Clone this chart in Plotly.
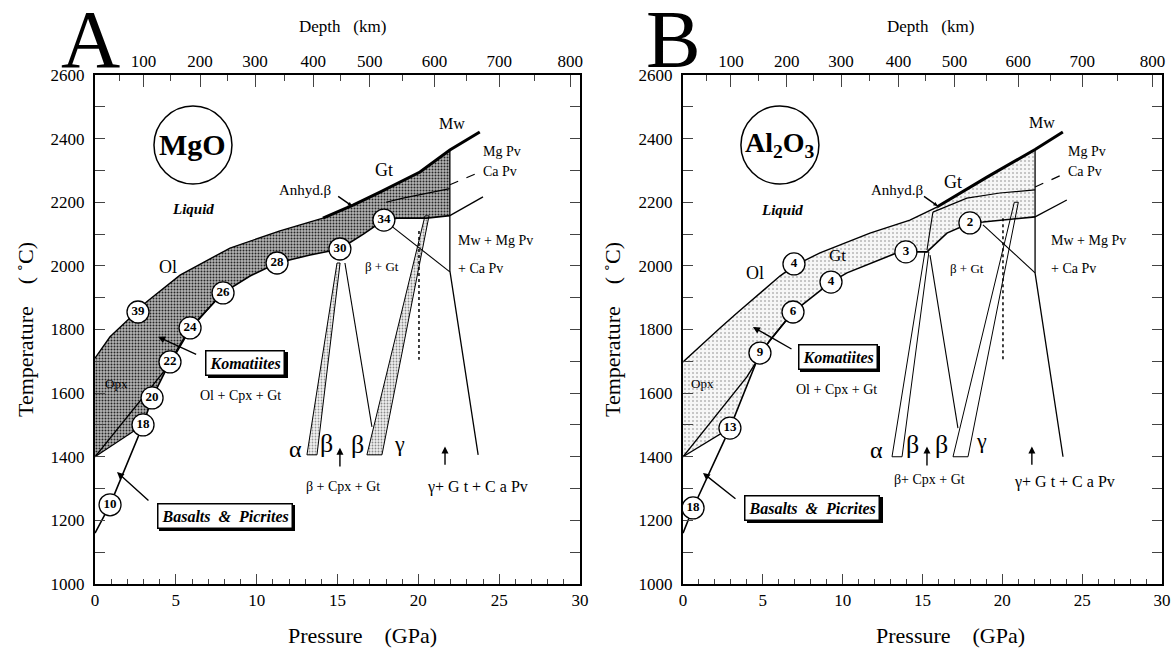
import plotly.graph_objects as go

# ---------------- Data (pressure GPa, temperature C) ----------------
# Panel A (MgO)
OL_LIQ_A_P = [0, 0.93, 2.16, 3.2, 5.26, 8.35, 11.44, 14.1]
OL_LIQ_A_T = [1710, 1777, 1836, 1887, 1971, 2056, 2110, 2150]
GT_LIQ_A_P = [14.1, 15.96, 17.63, 20.1, 21.95, 23.8]
GT_LIQ_A_T = [2150, 2191, 2232, 2295, 2364, 2421]
SOL_A_P = [0, 0.93, 2.97, 3.53, 4.64, 5.88, 7.92, 9.59, 11.26, 13.3, 15.15, 16.6, 17.87, 18.7, 20.5, 21.95]
SOL_A_T = [1160, 1249, 1500, 1585, 1698, 1805, 1915, 1968, 2009, 2034, 2053, 2100, 2144, 2150, 2150, 2158]
LOW_A_P = [0, 2.97]
LOW_A_T = [1400, 1500]
OPX_A_P = [0, 4.64, 5.88, 7.7]
OPX_A_T = [1400, 1692, 1800, 1905]
VERT_A_P = [21.95, 21.95, 23.7]
VERT_A_T = [2364, 1985, 1406]
MGPV_UP_A_P = [18.0, 19.05, 21.95]
MGPV_UP_A_T = [2200, 2213, 2243]
CAPV_A_P = [21.95, 23.8]
CAPV_A_T = [2255, 2295]
MW_LOW_A_P = [21.95, 24.0]
MW_LOW_A_T = [2158, 2217]
L34_A_P = [17.87, 21.95]
L34_A_T = [2144, 1981]
ALPHA_A_P = [14.97, 13.11, 13.73, 15.16, 14.97]
ALPHA_A_T = [2009, 1406, 1406, 2009, 2009]
L30_A_P = [15.46, 17.13]
L30_A_T = [2009, 1494]
GAMMA_A_P = [20.41, 16.82, 17.75, 20.66, 20.41]
GAMMA_A_T = [2157, 1406, 1406, 2157, 2157]
DOT_A_P = [20.04, 20.04]
DOT_A_T = [2110, 1705]
CIRC_A_LBL = ["10", "18", "20", "22", "24", "26", "28", "30", "34", "39"]
CIRC_A_P = [0.93, 2.97, 3.53, 4.64, 5.88, 7.92, 11.26, 15.15, 17.87, 2.66]
CIRC_A_T = [1249, 1500, 1585, 1698, 1805, 1915, 2009, 2053, 2144, 1855]

# Panel B (Al2O3)
OL_LIQ_B_P = [0, 1.06, 2.32, 3.38, 4.82, 6.07, 6.95, 8.58, 11.71, 14.21, 15.9]
OL_LIQ_B_T = [1698, 1748, 1805, 1852, 1915, 1968, 2000, 2041, 2103, 2144, 2185]
GT_LIQ_B_P = [15.9, 19.04, 22.05, 23.79]
GT_LIQ_B_T = [2185, 2279, 2366, 2421]
SOL_B_P = [0, 0.63, 2.94, 4.82, 6.89, 9.27, 10.27, 13.4, 13.96, 15.28, 16.53, 17.97, 18.79, 22.05]
SOL_B_T = [1160, 1239, 1490, 1726, 1855, 1949, 1978, 2041, 2044, 2044, 2103, 2135, 2138, 2154]
LOW_B_P = [0, 2.94]
LOW_B_T = [1400, 1490]
OPX_B_P = [0, 4.0, 5.45, 6.89]
OPX_B_T = [1400, 1651, 1767, 1855]
VERT_B_P = [22.05, 22.05, 23.8]
VERT_B_T = [2366, 1978, 1400]
MGPV_UP_B_P = [15.65, 17.78, 19.85, 22.05]
MGPV_UP_B_T = [2169, 2213, 2229, 2239]
CAPV_B_P = [22.05, 24.0]
CAPV_B_T = [2248, 2292]
MW_LOW_B_P = [22.05, 24.04]
MW_LOW_B_T = [2154, 2207]
L2_B_P = [18.79, 22.05]
L2_B_T = [2129, 1978]
BETA_IN_B_P = [15.28, 15.65]
BETA_IN_B_T = [2050, 2169]
ALPHA_B_P = [15.15, 13.09, 13.72, 15.4, 15.15]
ALPHA_B_T = [2044, 1400, 1400, 2044, 2044]
L3_B_P = [15.47, 17.22]
L3_B_T = [2034, 1490]
GAMMA_B_P = [20.75, 16.91, 17.85, 21.0, 20.75]
GAMMA_B_T = [2200, 1400, 1400, 2200, 2200]
DOT_B_P = [20.04, 20.04]
DOT_B_T = [2150, 1700]
CIRC_B_LBL = ["18", "13", "9", "6", "4", "4", "3", "2"]
CIRC_B_P = [0.63, 2.94, 4.82, 6.89, 6.95, 9.27, 13.96, 17.97]
CIRC_B_T = [1239, 1490, 1726, 1855, 2006, 1949, 2044, 2135]

# Axis tick labels
P_TICKS = [0, 5, 10, 15, 20, 25, 30]
T_TICKS = [1000, 1200, 1400, 1600, 1800, 2000, 2200, 2400, 2600]
DEPTH_LABELS = ["100", "200", "300", "400", "500", "600", "700", "800"]
DEPTH_AT_P = [3.0, 6.5, 9.9, 13.5, 17.0, 21.0, 25.0, 29.4]
DEPTH_MINOR_AT_P = [1.5, 4.7, 8.2, 11.7, 15.2, 19.0, 23.0, 27.2]

W, H = 1176, 652
FONT = "Liberation Serif"


def px(x):
    return x / W


def py(y):
    return 1 - y / H


fig = go.Figure()


def line(P, T, xa, ya, width=1.2, dash="solid"):
    fig.add_trace(go.Scatter(x=P, y=T, xaxis=xa, yaxis=ya, mode="lines",
                             line=dict(color="black", width=width, dash=dash),
                             hoverinfo="skip", showlegend=False))


def fill(P, T, xa, ya, bg, fg, size, sol, lw=0):
    fig.add_trace(go.Scatter(x=P, y=T, xaxis=xa, yaxis=ya, mode="lines", fill="toself",
                             fillcolor=bg,
                             fillpattern=dict(shape=".", bgcolor=bg, fgcolor=fg, size=size, solidity=sol),
                             line=dict(color="black", width=lw),
                             hoverinfo="skip", showlegend=False))


# ---- shaded melting bands ----
bandA_P = OL_LIQ_A_P + GT_LIQ_A_P[1:5] + SOL_A_P[:1:-1] + LOW_A_P[::-1]
bandA_T = OL_LIQ_A_T + GT_LIQ_A_T[1:5] + SOL_A_T[:1:-1] + LOW_A_T[::-1]
fill(bandA_P, bandA_T, "x", "y", "#b4b4b4", "#262626", 3, 0.33)
bandB_P = OL_LIQ_B_P + GT_LIQ_B_P[1:3] + SOL_B_P[:1:-1] + LOW_B_P[::-1]
bandB_T = OL_LIQ_B_T + GT_LIQ_B_T[1:3] + SOL_B_T[:1:-1] + LOW_B_T[::-1]
fill(bandB_P, bandB_T, "x2", "y2", "#f6f6f6", "#8a8a8a", 4, 0.13)

# wedges
fill(ALPHA_A_P, ALPHA_A_T, "x", "y", "#f2f2f2", "#9a9a9a", 3, 0.3, 1)
fill(GAMMA_A_P, GAMMA_A_T, "x", "y", "#eeeeee", "#8a8a8a", 3, 0.3, 1)
line(ALPHA_B_P, ALPHA_B_T, "x2", "y2", 1)
line(GAMMA_B_P, GAMMA_B_T, "x2", "y2", 1)

# ---- lines, panel A ----
line(OL_LIQ_A_P, OL_LIQ_A_T, "x", "y", 1.4)
line(GT_LIQ_A_P, GT_LIQ_A_T, "x", "y", 3)
line(SOL_A_P, SOL_A_T, "x", "y", 1.6)
line(LOW_A_P, LOW_A_T, "x", "y", 1.2)
line(OPX_A_P, OPX_A_T, "x", "y", 1.4)
line(VERT_A_P, VERT_A_T, "x", "y", 1.3)
line(MGPV_UP_A_P, MGPV_UP_A_T, "x", "y", 1.2)
line(CAPV_A_P, CAPV_A_T, "x", "y", 1.2, "dash")
line(MW_LOW_A_P, MW_LOW_A_T, "x", "y", 1.3)
line(L34_A_P, L34_A_T, "x", "y", 1.1)
line(L30_A_P, L30_A_T, "x", "y", 1.1)
line(DOT_A_P, DOT_A_T, "x", "y", 1.5, "dot")

# ---- lines, panel B ----
line(OL_LIQ_B_P, OL_LIQ_B_T, "x2", "y2", 1.4)
line(GT_LIQ_B_P, GT_LIQ_B_T, "x2", "y2", 3)
line(SOL_B_P, SOL_B_T, "x2", "y2", 1.6)
line(LOW_B_P, LOW_B_T, "x2", "y2", 1.2)
line(OPX_B_P, OPX_B_T, "x2", "y2", 1.4)
line(VERT_B_P, VERT_B_T, "x2", "y2", 1.3)
line(MGPV_UP_B_P, MGPV_UP_B_T, "x2", "y2", 1.2)
line(CAPV_B_P, CAPV_B_T, "x2", "y2", 1.2, "dash")
line(MW_LOW_B_P, MW_LOW_B_T, "x2", "y2", 1.3)
line(L2_B_P, L2_B_T, "x2", "y2", 1.1)
line(BETA_IN_B_P, BETA_IN_B_T, "x2", "y2", 1.1)
line(L3_B_P, L3_B_T, "x2", "y2", 1.1)
line(DOT_B_P, DOT_B_T, "x2", "y2", 1.5, "dot")

# ---- numbered circles ----
for lbl, P, T, xa, ya in [(CIRC_A_LBL, CIRC_A_P, CIRC_A_T, "x", "y"),
                           (CIRC_B_LBL, CIRC_B_P, CIRC_B_T, "x2", "y2")]:
    fig.add_trace(go.Scatter(x=P, y=T, xaxis=xa, yaxis=ya, mode="markers+text", text=lbl,
                             textposition="middle center",
                             textfont=dict(family=FONT, size=13, color="black", weight="bold"),
                             marker=dict(size=22, color="white", line=dict(color="black", width=1.3)),
                             hoverinfo="skip", showlegend=False))

# big composition circles
fig.add_trace(go.Scatter(x=[6.06], y=[2380], xaxis="x", yaxis="y", mode="markers",
                         marker=dict(size=78, color="white", line=dict(color="black", width=1.5)),
                         hoverinfo="skip", showlegend=False))
fig.add_trace(go.Scatter(x=[6.07], y=[2380], xaxis="x2", yaxis="y2", mode="markers",
                         marker=dict(size=78, color="white", line=dict(color="black", width=1.5)),
                         hoverinfo="skip", showlegend=False))
# dummy traces for depth axes
fig.add_trace(go.Scatter(x=[None], y=[None], xaxis="x3", yaxis="y", showlegend=False))
fig.add_trace(go.Scatter(x=[None], y=[None], xaxis="x4", yaxis="y2", showlegend=False))

# ---------------- axes ----------------
xdomA = [px(95), px(580)]
xdomB = [px(683), px(1162)]
ydom = [py(584), py(75)]
tickfont = dict(family=FONT, size=17, color="black")
common_x = dict(range=[0, 30], tickvals=P_TICKS, ticks="inside", ticklen=10, tickwidth=1.2,
                minor=dict(dtick=1, ticks="inside", ticklen=5, tickwidth=1),
                showline=True, linewidth=2, linecolor="black", mirror=True, showgrid=False,
                zeroline=False, tickfont=tickfont, automargin=False)
common_y = dict(range=[1000, 2600], tickvals=T_TICKS, ticks="inside", ticklen=10, tickwidth=1.2,
                minor=dict(dtick=100, ticks="inside", ticklen=5, tickwidth=1),
                showline=True, linewidth=2, linecolor="black", mirror="allticks", showgrid=False,
                zeroline=False, tickfont=tickfont, domain=ydom, automargin=False,
                ticklabelstandoff=5)
common_top = dict(range=[0, 30], side="top", tickvals=DEPTH_AT_P, ticktext=DEPTH_LABELS,
                  ticks="inside", ticklen=12, tickwidth=1.2,
                  minor=dict(tickvals=DEPTH_MINOR_AT_P, ticks="inside", ticklen=6, tickwidth=1),
                  showline=False, showgrid=False, zeroline=False, tickfont=tickfont, automargin=False,
                  ticklabelstandoff=4)

fig.update_layout(
    width=W, height=H, margin=dict(l=0, r=0, t=0, b=0),
    paper_bgcolor="white", plot_bgcolor="white", template="none",
    font=dict(family=FONT, color="black"),
    xaxis=dict(domain=xdomA, anchor="y", **common_x),
    yaxis=dict(anchor="x", **common_y),
    xaxis2=dict(domain=xdomB, anchor="y2", **common_x),
    yaxis2=dict(anchor="x2", **common_y),
    xaxis3=dict(overlaying="x", anchor="y", **common_top),
    xaxis4=dict(overlaying="x2", anchor="y2", **common_top),
    showlegend=False,
)

ann = []


def T(xa, P, Tv, text, size=14, bold=False, italic=False, **kw):
    t = text
    if italic:
        t = "<i>" + t + "</i>"
    if bold:
        t = "<b>" + t + "</b>"
    d = dict(x=P, y=Tv, xref=xa, yref="y" if xa == "x" else "y2", text=t, showarrow=False,
             xanchor="center", yanchor="middle",
             font=dict(family=FONT, size=size, color="black"))
    d.update(kw)
    ann.append(d)


def arrow(xa, P, Tv, axP, ayT, size=1.0):
    ya = "y" if xa == "x" else "y2"
    ann.append(dict(x=P, y=Tv, xref=xa, yref=ya, ax=axP, ay=ayT, axref=xa, ayref=ya, text="",
                    showarrow=True, arrowhead=2, arrowsize=size, arrowwidth=1.4, arrowcolor="black"))


def boxed(xa, P, Tv, text, size):
    ya = "y" if xa == "x" else "y2"
    t = "<b><i>" + text + "</i></b>"
    ann.append(dict(x=P, y=Tv, xref=xa, yref=ya, text=t, showarrow=False, xshift=2.5, yshift=-2.5,
                    xanchor="center", yanchor="middle",
                    font=dict(family=FONT, size=size, color="black"), bgcolor="black",
                    bordercolor="black", borderwidth=1.5, borderpad=3))
    ann.append(dict(x=P, y=Tv, xref=xa, yref=ya, text=t, showarrow=False,
                    xanchor="center", yanchor="middle",
                    font=dict(family=FONT, size=size, color="black"), bgcolor="white",
                    bordercolor="black", borderwidth=1.5, borderpad=3))


# Panel A text
T("x", 6.06, 2380, "MgO", 30, bold=True)
T("x", 6.06, 2180, "Liquid", 15, bold=True, italic=True)
T("x", 4.5, 1997, "Ol", 18)
T("x", 17.9, 2301, "Gt", 18)
T("x", 22.1, 2449, "Mw", 16)
T("x", 23.9, 2358, "Mg Pv", 14, xanchor="left")
T("x", 23.9, 2298, "Ca Pv", 14, xanchor="left")
T("x", 17.75, 1997, "β + Gt", 13)
T("x", 22.3, 2081, "Mw + Mg Pv", 14, xanchor="left")
T("x", 22.3, 1993, "+ Ca Pv", 14, xanchor="left")
T("x", 8.97, 1591, "Ol + Cpx + Gt", 14)
T("x", 1.36, 1629, "Opx", 13)
T("x", 12.43, 1425, "α", 24)
T("x", 14.35, 1443, "β", 26)
T("x", 16.26, 1440, "β", 26)
T("x", 18.86, 1443, "γ", 22)
T("x", 15.34, 1305, "β + Cpx + Gt", 14)
T("x", 23.69, 1305, "γ+ G t + C a Pv", 16)
T("x", 13.0, 2240, "Anhyd.β", 15)
arrow("x", 15.9, 2188, 14.95, 2222, 0.6)
arrow("x", 15.15, 1428, 15.15, 1365)
arrow("x", 21.65, 1432, 21.65, 1370)
boxed("x", 9.28, 1695, "Komatiites", 16)
arrow("x", 3.9, 1777, 6.35, 1720)
boxed("x", 8.04, 1214, "Basalts  &  Picrites", 16)
arrow("x", 1.36, 1352, 3.4, 1258)

# Panel B text
T("x2", 6.07, 2380, "Al<sub>2</sub>O<sub>3</sub>", 28, bold=True)
T("x2", 6.2, 2176, "Liquid", 15, bold=True, italic=True)
T("x2", 4.5, 1978, "Ol", 18)
T("x2", 9.7, 2034, "Gt", 17)
T("x2", 16.9, 2264, "Gt", 18)
T("x2", 22.5, 2452, "Mw", 16)
T("x2", 24.0, 2358, "Mg Pv", 14, xanchor="left")
T("x2", 24.0, 2298, "Ca Pv", 14, xanchor="left")
T("x2", 17.8, 1993, "β + Gt", 13)
T("x2", 22.9, 2081, "Mw + Mg Pv", 14, xanchor="left")
T("x2", 22.9, 1993, "+ Ca Pv", 14, xanchor="left")
T("x2", 9.64, 1610, "Ol + Cpx + Gt", 14)
T("x2", 1.25, 1629, "Opx", 13)
T("x2", 12.15, 1421, "α", 24)
T("x2", 14.4, 1440, "β", 26)
T("x2", 16.2, 1440, "β", 26)
T("x2", 18.7, 1450, "γ", 22)
T("x2", 15.47, 1327, "β+ Cpx + Gt", 14)
T("x2", 23.9, 1321, "γ+ G t + C a Pv", 16)
T("x2", 13.4, 2240, "Anhyd.β", 15)
arrow("x2", 15.95, 2188, 15.0, 2222, 0.6)
arrow("x2", 15.28, 1432, 15.28, 1368)
arrow("x2", 21.85, 1432, 21.85, 1370)
boxed("x2", 9.7, 1714, "Komatiites", 16)
arrow("x2", 4.38, 1808, 6.89, 1736)
boxed("x2", 8.08, 1239, "Basalts  &  Picrites", 16)
arrow("x2", 1.25, 1349, 3.38, 1264)


def paper_text(cx, cy, text, size, angle=0):
    ann.append(dict(x=px(cx), y=py(cy), xref="paper", yref="paper", text=text, showarrow=False,
                    xanchor="center", yanchor="middle", textangle=angle,
                    font=dict(family=FONT, size=size, color="black")))


# titles and panel letters
paper_text(90, 40, "A", 82)
paper_text(673, 40, "B", 82)
paper_text(342, 27, "Depth   (km)", 17)
paper_text(930, 27, "Depth   (km)", 17)
paper_text(362, 635, "Pressure    (GPa)", 22)
paper_text(950, 635, "Pressure    (GPa)", 22)
paper_text(25, 330, "Temperature    ( ˚C)", 22, -90)
paper_text(612, 330, "Temperature    ( ˚C)", 22, -90)

fig.update_layout(annotations=ann)
fig.write_html("out.html", config={"displayModeBar": False},
               post_script="document.body.style.margin='0px';document.body.style.padding='0px';")
